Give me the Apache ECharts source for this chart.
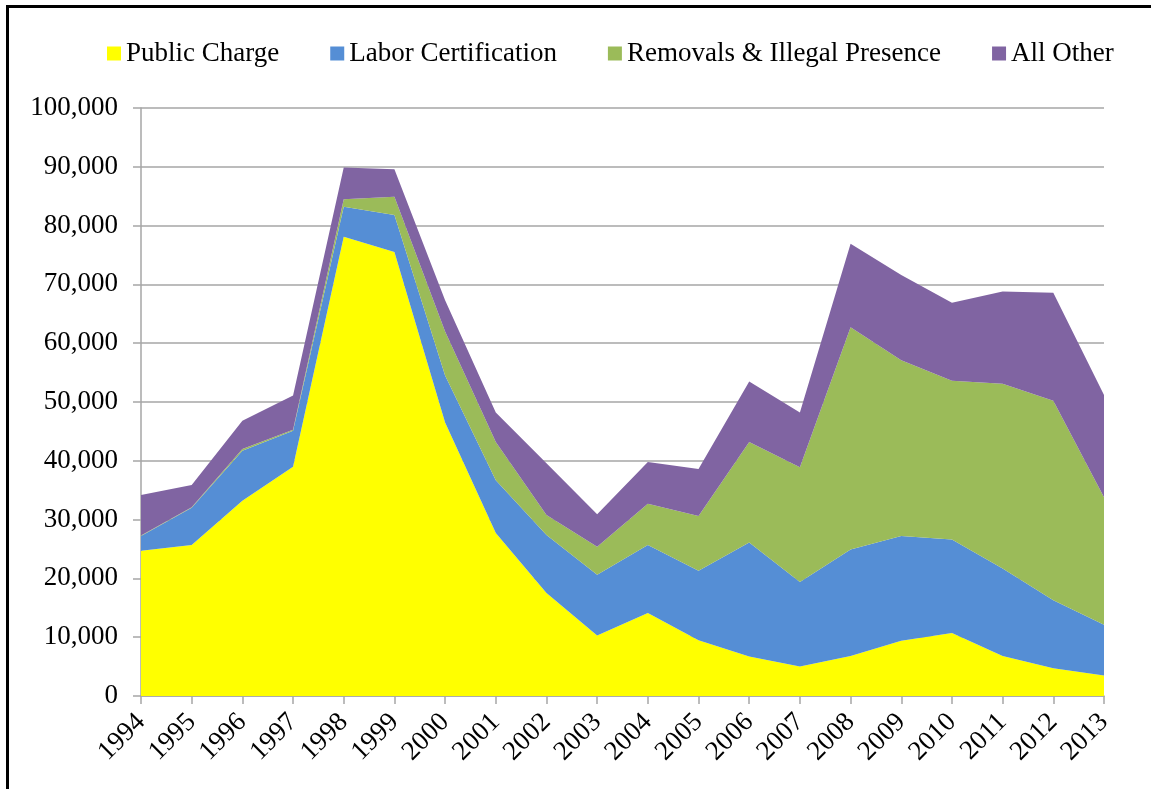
<!DOCTYPE html>
<html>
<head>
<meta charset="utf-8">
<title>Stacked area</title>
<script src="https://cdn.jsdelivr.net/npm/echarts@6/dist/echarts.min.js"></script>
<style>
    html, body { margin: 0; padding: 0; background: #fff; }
    #show_charts { width: 1151px; height: 789px; }
    #frame {
        position: absolute; left: 6px; top: 5px; width: 1300px; height: 900px;
        border-top: 3px solid #000; border-left: 3px solid #000;
        pointer-events: none;
    }
</style>
</head>
<body>
<div id="show_charts"></div>
<div id="frame"></div>
<script>
// 年份
var years = ['1994', '1995', '1996', '1997', '1998', '1999', '2000', '2001', '2002', '2003',
             '2004', '2005', '2006', '2007', '2008', '2009', '2010', '2011', '2012', '2013'];

var seriesNames = ['Public Charge', 'Labor Certification', 'Removals & Illegal Presence', 'All Other'];
var seriesColors = ['#FFFF00', '#558ED5', '#9BBB59', '#8064A2'];

var publicCharge = [24700, 25700, 33200, 39000, 78100, 75500, 46500, 27700, 17500, 10300,
                    14100, 9500, 6700, 5000, 6800, 9400, 10700, 6800, 4700, 3500];
var laborCert = [2500, 6300, 8500, 6100, 5100, 6300, 8000, 9000, 9900, 10300,
                 11600, 11800, 19400, 14400, 18100, 17800, 15900, 14900, 11600, 8600];
var removals = [100, 100, 300, 200, 1300, 3100, 7500, 6500, 3400, 4800,
                7000, 9300, 17100, 19500, 37800, 29900, 27000, 31400, 33900, 21700];
var allOther = [6900, 3800, 4800, 5800, 5400, 4700, 5300, 5000, 8800, 5500,
                7100, 8000, 10300, 9300, 14200, 14500, 13300, 15700, 18400, 17400];

var yMin = 0, yMax = 100000, yStep = 10000;

var fontName = '"Liberation Serif", "Times New Roman", serif';
var gridColor = '#a6a6a6';

var values = [publicCharge, laborCert, removals, allOther];
var series = [];
for (var i = 0; i < values.length; i++) {
    series.push({
        name: seriesNames[i],
        type: 'line',
        stack: 'total',
        data: values[i],
        symbol: 'none',
        lineStyle: { width: 0 },
        areaStyle: { color: seriesColors[i], opacity: 1 },
        itemStyle: { color: seriesColors[i] }
    });
}

var myChart = echarts.init(document.getElementById('show_charts'));
var option = {
    animation: false,
    legend: {
        left: 102,
        top: 35,
        itemWidth: 14,
        itemHeight: 14,
        itemGap: 51,
        icon: 'rect',
        data: seriesNames,
        textStyle: { fontFamily: fontName, fontSize: 27, color: '#000', padding: [0, 0, 0, 0] }
    },
    grid: { left: 141, right: 47, top: 108, bottom: 93, containLabel: false },
    xAxis: {
        type: 'category',
        data: years,
        boundaryGap: false,
        axisLine: { lineStyle: { color: gridColor, width: 1.5 } },
        axisTick: { show: true, length: 8, alignWithLabel: true, lineStyle: { color: gridColor, width: 1.5 } },
        axisLabel: {
            rotate: 45,
            margin: 22,
            interval: 0,
            color: '#000',
            fontFamily: fontName,
            fontSize: 27
        }
    },
    yAxis: {
        type: 'value',
        min: yMin,
        max: yMax,
        interval: yStep,
        axisLine: { show: true, lineStyle: { color: gridColor, width: 1.5 } },
        axisTick: { show: true, length: 8, lineStyle: { color: gridColor, width: 1.5 } },
        splitLine: { lineStyle: { color: gridColor, width: 1.5 } },
        axisLabel: {
            margin: 23,
            color: '#000',
            fontFamily: fontName,
            fontSize: 27,
            formatter: function (v) { return v.toLocaleString('en-US'); }
        }
    },
    series: series
};
myChart.setOption(option);
</script>
</body>
</html>
